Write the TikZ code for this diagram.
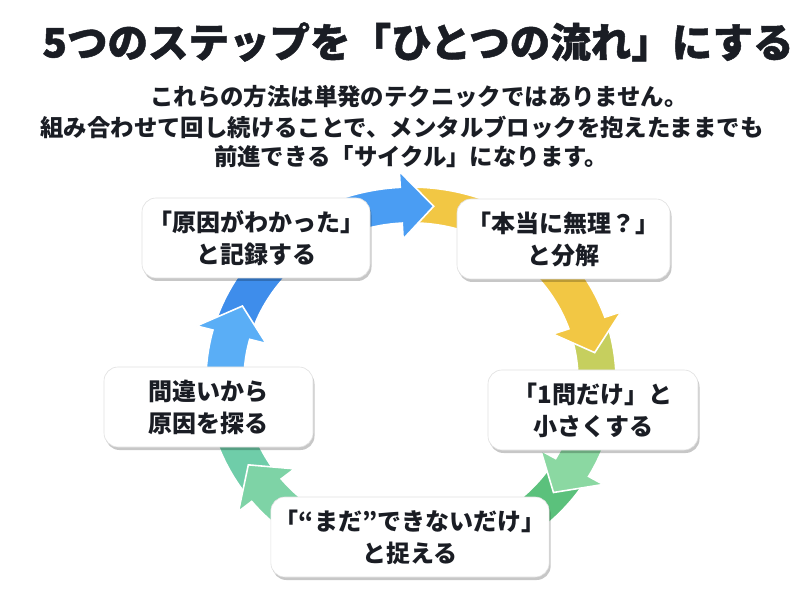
\documentclass[tikz,border=0pt]{standalone}
\usepackage{fontspec}
\newfontfamily\jp{Noto Sans CJK JP}
\usetikzlibrary{shadows}
\definecolor{textc}{HTML}{1A1D24}
\definecolor{cYellow}{HTML}{F2C744}
\definecolor{cYG}{HTML}{C6CF5E}
\definecolor{cLGreen}{HTML}{8BD8A2}
\definecolor{cGreen}{HTML}{5BC17C}
\definecolor{cLTeal}{HTML}{7ED3A6}
\definecolor{cTeal}{HTML}{6FCDA9}
\definecolor{cLBlue}{HTML}{5AAEF6}
\definecolor{cBlue}{HTML}{3E8DEB}
\definecolor{cBlueTop}{HTML}{4A9DF3}
\tikzset{
  segstyle/.style={draw=white, line width=1.6pt, line join=miter},
  stepbox/.style={rectangle, rounded corners=14pt, fill=white, draw=black!12, line width=0.6pt,
    align=center, text=textc, font=\jp\bfseries\fontsize{24}{32}\selectfont,
    minimum height=80pt, inner sep=4pt,
    drop shadow={shadow xshift=1.5pt, shadow yshift=-3pt, opacity=0.22, fill=black}},
  titletext/.style={text=textc, font=\jp\bfseries\addfontfeature{FakeBold=1.2}\fontsize{40.5}{48}\selectfont, inner sep=0pt},
  subtext/.style={text=textc, font=\jp\bfseries\fontsize{23.4}{30}\selectfont, inner sep=0pt}
}
% #1 colour, #2 start angle, #3 end angle (clockwise), #4 notch 0/1, #5 head 0/1
\newcommand\ringseg[5]{%
  \pgfmathsetmacro\hb{#3+10*#5}%
  \ifnum#5=1 \def\headpart{-- (\hb:222) -- (#3:186) -- (\hb:150)}\else\def\headpart{}\fi
  \ifnum#4=1 \def\notchpart{-- ({#2-6}:186)}\else\def\notchpart{}\fi
  \filldraw[segstyle, fill=#1] (#2:205) arc[start angle=#2, end angle=\hb, radius=205pt]
     \headpart -- (\hb:167) arc[start angle=\hb, end angle=#2, radius=167pt] \notchpart -- cycle;
}
\begin{document}
\begin{tikzpicture}[x=1pt,y=1pt]
\useasboundingbox (0,0) rectangle (800,600);
\fill[white] (0,0) rectangle (800,600);

\node[titletext] (title) at (418,558) {5つのステップを「ひとつの流れ」にする};
\node[subtext] (sub1) at (419,503) {これらの方法は単発のテクニックではありません。};
\node[subtext] (sub2) at (402,473) {組み合わせて回し続けることで、メンタルブロックを抱えたままでも};
\node[subtext] (sub3) at (411,443) {前進できる「サイクル」になります。};

\begin{scope}[shift={(411,220)}, yscale=0.941]
  % tails (drawn first)
  \ringseg{cYG}{17}{-8}{1}{0}
  \ringseg{cGreen}{-32}{-95}{1}{0}
  \ringseg{cTeal}{-143}{-185}{1}{0}
  \ringseg{cBlue}{-197}{-230}{1}{0}
  % heads
  \ringseg{cYellow}{91}{9}{1}{1}
  \ringseg{cLGreen}{-5}{-40}{0}{1}
  \ringseg{cLTeal}{-100}{-151}{0}{1}
  \ringseg{cLBlue}{-180}{-205}{0}{1}
  \ringseg{cBlueTop}{-235}{-277}{0}{1}
\end{scope}

\node[stepbox, minimum width=228pt] (b1) at (256,362) {「原因がわかった」\\と記録する};
\node[stepbox, minimum width=213pt] (b2) at (563.5,361) {「本当に無理？」\\と分解};
\node[stepbox, minimum width=210pt] (b3) at (593,190) {「1問だけ」と\\小さくする};
\node[stepbox, minimum width=266pt] (b4) at (410,63) {「“まだ”できないだけ」\\と捉える};
\node[stepbox, minimum width=209pt] (b5) at (208.5,193) {間違いから\\原因を探る};
\end{tikzpicture}
\end{document}
